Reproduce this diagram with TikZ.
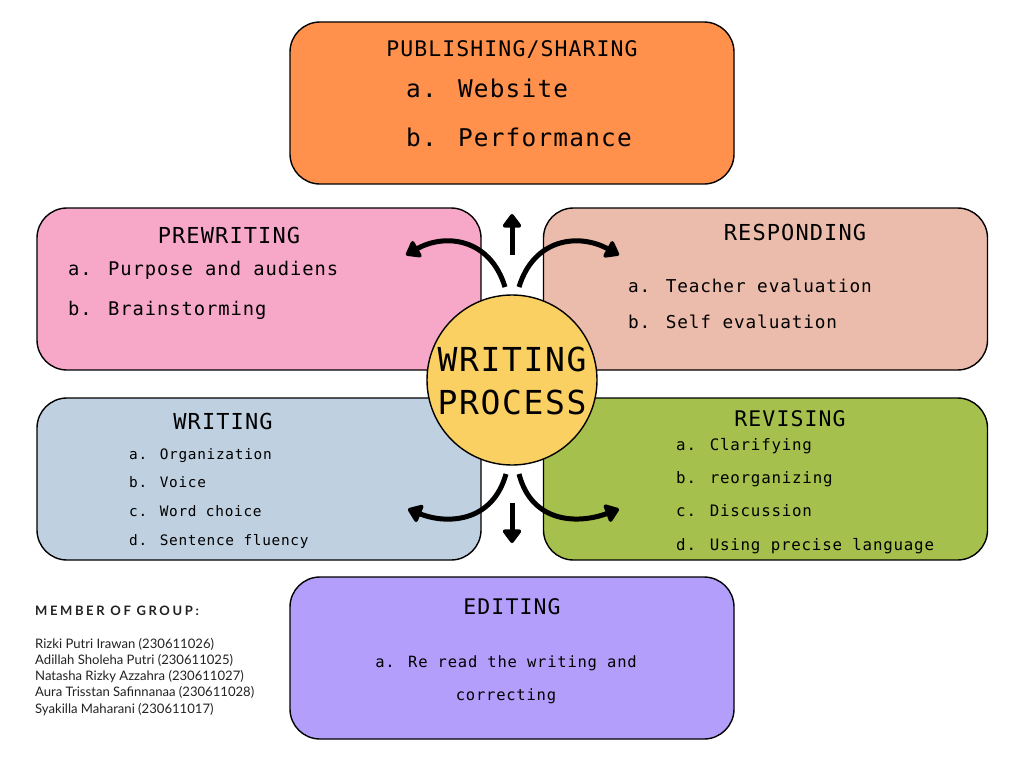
\documentclass[tikz,border=0pt]{standalone}
\usepackage{fontspec}
\setmainfont{DejaVu Sans Mono}[LetterSpace=5]
\newfontfamily\latofont{Lato}
\newfontfamily\latospaced{Lato}[LetterSpace=20]
\usetikzlibrary{arrows.meta}
\definecolor{cOrange}{HTML}{FF914D}
\definecolor{cPink}{HTML}{F7A8C8}
\definecolor{cPeach}{HTML}{EBBBAB}
\definecolor{cBlue}{HTML}{BFD0E0}
\definecolor{cGreen}{HTML}{A5C04C}
\definecolor{cPurple}{HTML}{B49EFC}
\definecolor{cYellow}{HTML}{FBD062}
\definecolor{cText}{HTML}{222222}
\tikzset{
  box/.style={draw=black, line width=1.4pt, rounded corners=30pt, minimum width=444pt, minimum height=162pt, inner sep=0pt},
  hd/.style={anchor=mid, inner sep=0pt},
  it/.style={anchor=mid west, inner sep=0pt},
  arr/.style={line width=5pt, -{Triangle[width=21pt,length=15pt,round]}},
}
\newcommand{\fs}[1]{\fontsize{#1}{#1}\selectfont}
\begin{document}
\begin{tikzpicture}[x=1pt,y=-1pt]
\useasboundingbox (0,0) rectangle (1024,768);
% boxes
\node[box, fill=cOrange] (pub) at (512,103) {};
\node[box, fill=cPink] (pre) at (259,289) {};
\node[box, fill=cPeach] (res) at (765.5,289) {};
\node[box, fill=cBlue] (wri) at (259,479) {};
\node[box, fill=cGreen] (rev) at (765.5,479) {};
\node[box, fill=cPurple] (edi) at (512,658) {};
% circle
\node[circle, draw=black, line width=1.4pt, fill=cYellow, minimum size=170pt, inner sep=0pt] (wp) at (512,380) {};
\node[hd] (wp1) at (512,369) {\fs{33}WRITING};
\node[hd] (wp2) at (512,412) {\fs{33}PROCESS};
% publishing
\node[hd] (pubh) at (512,54) {\fs{21.5}PUBLISHING/SHARING};
\node[it] (puba) at (406,95) {\fs{24.4}a. Website};
\node[it] (pubb) at (406,144) {\fs{24.4}b. Performance};
% prewriting
\node[hd] (preh) at (229,241) {\fs{22}PREWRITING};
\node[it] (prea) at (68,273) {\fs{18.8}a. Purpose and audiens};
\node[it] (preb) at (68,313) {\fs{18.8}b. Brainstorming};
% responding
\node[hd] (resh) at (795,238) {\fs{22}RESPONDING};
\node[it] (resa) at (628,290) {\fs{17.7}a. Teacher evaluation};
\node[it] (resb) at (628,326) {\fs{17.7}b. Self evaluation};
% writing
\node[hd] (wrih) at (223,427) {\fs{22}WRITING};
\node[it] (wria) at (129,457) {\fs{14.4}a. Organization};
\node[it] (wrib) at (129,485) {\fs{14.4}b. Voice};
\node[it] (wric) at (129,514) {\fs{14.4}c. Word choice};
\node[it] (wrid) at (129,543) {\fs{14.4}d. Sentence fluency};
% revising
\node[hd] (revh) at (790,424) {\fs{21.5}REVISING};
\node[it] (reva) at (676,448) {\fs{15.8}a. Clarifying};
\node[it] (revb) at (676,481) {\fs{15.8}b. reorganizing};
\node[it] (revc) at (676,514) {\fs{15.8}c. Discussion};
\node[it] (revd) at (676,548) {\fs{15.8}d. Using precise language};
% editing
\node[hd] (edih) at (512,612) {\fs{21.5}EDITING};
\node[hd] (edia) at (506,665) {\fs{15.5}a. Re read the writing and};
\node[hd] (edib) at (506,698) {\fs{15.5}correcting};
% members
\node[anchor=mid west, inner sep=0pt, text=cText] (mem) at (35,613) {\latospaced\bfseries\fontsize{13}{13}\selectfont MEMBER OF GROUP:};
\node[anchor=north west, inner sep=0pt, align=left, text=cText, font={\latofont\fontsize{13.1}{16.2}\selectfont}] (names) at (35,638) {Rizki Putri Irawan (230611026)\\
Adillah Sholeha Putri (230611025)\\
Natasha Rizky Azzahra (230611027)\\
Aura Trisstan Safinnanaa (230611028)\\
Syakilla Maharani (230611017)};
% arrows
\coordinate (upS) at (512,255);
\coordinate (upE) at (512,214);
\coordinate (ulS) at (505,287);
\coordinate (ulE) at (406,255);
\coordinate (urS) at (519,287);
\coordinate (urE) at (619,255);
\coordinate (dlS) at (506,474);
\coordinate (dlE) at (408,509);
\coordinate (drS) at (519,474);
\coordinate (drE) at (619,509);
\coordinate (dnS) at (512,503);
\coordinate (dnE) at (512,543);
\draw[arr] (upS) -- (upE);
\draw[arr] (dnS) -- (dnE);
\draw[arr] (ulS) .. controls (490,238) and (445,233) .. (ulE);
\draw[arr] (urS) .. controls (534,238) and (579,233) .. (urE);
\draw[arr] (dlS) .. controls (492,524) and (445,524) .. (dlE);
\draw[arr] (drS) .. controls (532,524) and (579,524) .. (drE);
\end{tikzpicture}
\end{document}
